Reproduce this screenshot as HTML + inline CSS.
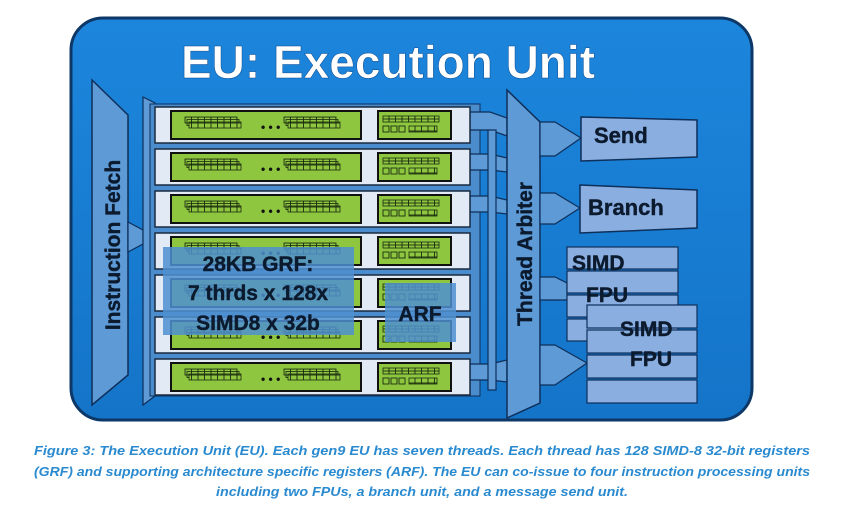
<!DOCTYPE html>
<html><head><meta charset="utf-8"><style>
html,body{margin:0;padding:0;background:#fff;width:842px;height:509px;overflow:hidden}
svg{display:block}
</style></head><body>
<svg width="842" height="509" viewBox="0 0 842 509" xmlns="http://www.w3.org/2000/svg" font-family="Liberation Sans, DejaVu Sans, sans-serif">
<defs>
<linearGradient id="bg" x1="0" y1="0" x2="0" y2="1"><stop offset="0" stop-color="#1c86dc"/><stop offset="1" stop-color="#1474c8"/></linearGradient>
<pattern id="sq" x="0" y="0" width="6.5" height="6" patternUnits="userSpaceOnUse">
  <rect x="0" y="0" width="6.5" height="6" fill="#8ec63f" stroke="#1a2a10" stroke-width="0.9"/>
</pattern>
<g id="cells">
  <rect x="0" y="0" width="52" height="6" fill="url(#sq)" stroke="#1a2a10" stroke-width="0.8"/>
  <rect x="2" y="2.5" width="52" height="6" fill="url(#sq)" stroke="#1a2a10" stroke-width="0.8"/>
  <rect x="4" y="5" width="52" height="6" fill="url(#sq)" stroke="#1a2a10" stroke-width="0.8"/>
</g>
<g id="row">
  <rect x="0" y="0" width="315" height="36" fill="#e2ebf5" stroke="#1a2a40" stroke-width="1.5"/>
  <rect x="16" y="4" width="190" height="28" fill="#8ec63f" stroke="#111" stroke-width="2"/>
  <use href="#cells" x="30" y="10"/>
  <text x="106" y="24" font-size="12" font-weight="bold" fill="#111">• • •</text>
  <use href="#cells" x="129" y="10"/>
  <rect x="223" y="4" width="73" height="28" fill="#8ec63f" stroke="#111" stroke-width="2"/>
  <rect x="228" y="9" width="56" height="6" fill="url(#sq)" stroke="#1a2a10" stroke-width="0.8"/>
  <g fill="none" stroke="#1a2a10" stroke-width="0.9">
    <rect x="228" y="19" width="6" height="6"/><rect x="236" y="19" width="6" height="6"/><rect x="244" y="19" width="6" height="6"/>
  </g>
  <rect x="254" y="19" width="28" height="6" fill="url(#sq)" stroke="#1a2a10" stroke-width="0.8"/>
</g>
</defs>
<rect x="71" y="18" width="681" height="402" rx="32" fill="url(#bg)" stroke="#0d3766" stroke-width="3"/>
<text x="388" y="78" font-size="46" font-weight="bold" fill="#fff" text-anchor="middle" stroke="#0a4a90" stroke-width="0.5">EU: Execution Unit</text>
<polygon points="92,80 128,115 128,375 92,405" fill="#5d9ad6" stroke="#0e2f5a" stroke-width="1.5"/>
<text transform="translate(120,245) rotate(-90)" font-size="21" font-weight="bold" fill="#0c1a2e" text-anchor="middle" stroke="#0c1a2e" stroke-width="0.4">Instruction Fetch</text>
<g fill="#5d9ad6" stroke="#0e2f5a" stroke-width="1.2">
<polygon points="128,222 143,230 143,244 128,252"/>
</g>
<polygon points="143,97 155,103 155,396 143,405" fill="#5d9ad6" stroke="#0e2f5a" stroke-width="1.2"/>
<rect x="150" y="104" width="330" height="292" fill="#4a8ccc" stroke="#0e2f5a" stroke-width="1"/>
<g fill="#5d9ad6" stroke="#0e2f5a" stroke-width="1.2">
<polygon points="470,112 490,112 507,118 507,136 490,130 470,130"/>
<polygon points="470,154 490,154 507,158 507,172 490,170 470,170"/>
<polygon points="470,196 490,196 507,200 507,214 490,212 470,212"/>
<polygon points="470,364 490,364 507,360 507,382 490,380 470,380"/>
<rect x="488" y="130" width="8" height="260"/>
</g>
<g>
<use href="#row" x="155" y="107"/>
<use href="#row" x="155" y="149"/>
<use href="#row" x="155" y="191"/>
<use href="#row" x="155" y="233"/>
<use href="#row" x="155" y="275"/>
<use href="#row" x="155" y="317"/>
<use href="#row" x="155" y="359"/>
</g>
<rect x="163" y="247" width="191" height="88" fill="#4f8fd0" fill-opacity="0.85"/>
<g font-size="21" font-weight="bold" fill="#0c1a2e" stroke="#0c1a2e" stroke-width="0.4" text-anchor="middle">
<text x="258" y="271">28KB GRF:</text>
<text x="258" y="300">7 thrds x 128x</text>
<text x="258" y="330">SIMD8 x 32b</text>
</g>
<rect x="385" y="283" width="71" height="59" fill="#4f8fd0" fill-opacity="0.85"/>
<text x="420" y="321" font-size="21" font-weight="bold" fill="#0c1a2e" stroke="#0c1a2e" stroke-width="0.4" text-anchor="middle">ARF</text>
<polygon points="507,90 540,122 540,403 507,418" fill="#5d9ad6" stroke="#0e2f5a" stroke-width="1.5"/>
<text transform="translate(532,254) rotate(-90)" font-size="21" font-weight="bold" fill="#0c1a2e" stroke="#0c1a2e" stroke-width="0.4" text-anchor="middle">Thread Arbiter</text>
<g fill="#5d9ad6" stroke="#0e2f5a" stroke-width="1.2">
<polygon points="540,122 555,122 581,138 555,156 540,156"/>
<polygon points="540,193 555,193 580,208 555,224 540,224"/>
<polygon points="540,277 555,277 567,283 567,300 555,300 540,300"/>
<polygon points="540,345 555,345 587,363 555,385 540,385"/>
</g>
<polygon points="581,117 697,120 697,157 581,161" fill="#8aaee0" stroke="#0e2f5a" stroke-width="1.5"/>
<text x="594" y="143" font-size="22" font-weight="bold" fill="#0c1a2e" stroke="#0c1a2e" stroke-width="0.4">Send</text>
<polygon points="580,185 697,190 697,228 580,233" fill="#8aaee0" stroke="#0e2f5a" stroke-width="1.5"/>
<text x="588" y="215" font-size="22" font-weight="bold" fill="#0c1a2e" stroke="#0c1a2e" stroke-width="0.4">Branch</text>
<g fill="#8aaee0" stroke="#0e2f5a" stroke-width="1.2">
<rect x="567" y="247" width="111" height="22"/>
<rect x="567" y="271" width="111" height="22"/>
<rect x="567" y="295" width="111" height="22"/>
<rect x="567" y="319" width="111" height="22"/>
</g>
<text x="572" y="270" font-size="21" font-weight="bold" fill="#0c1a2e" stroke="#0c1a2e" stroke-width="0.4">SIMD</text>
<text x="586" y="302" font-size="21" font-weight="bold" fill="#0c1a2e" stroke="#0c1a2e" stroke-width="0.4">FPU</text>
<g fill="#8aaee0" stroke="#0e2f5a" stroke-width="1.2">
<rect x="587" y="305" width="110" height="23"/>
<rect x="587" y="330" width="110" height="23"/>
<rect x="587" y="355" width="110" height="23"/>
<rect x="587" y="380" width="110" height="23"/>
</g>
<text x="620" y="336" font-size="21" font-weight="bold" fill="#0c1a2e" stroke="#0c1a2e" stroke-width="0.4">SIMD</text>
<text x="630" y="366" font-size="21" font-weight="bold" fill="#0c1a2e" stroke="#0c1a2e" stroke-width="0.4">FPU</text>
<g font-size="13" font-style="italic" font-weight="bold" fill="#2a8ad0" text-anchor="middle">
<text x="422" y="455" textLength="776" lengthAdjust="spacingAndGlyphs">Figure 3: The Execution Unit (EU). Each gen9 EU has seven threads. Each thread has 128 SIMD-8 32-bit registers</text>
<text x="422" y="476" textLength="776" lengthAdjust="spacingAndGlyphs">(GRF) and supporting architecture specific registers (ARF). The EU can co-issue to four instruction processing units</text>
<text x="422" y="496" textLength="412" lengthAdjust="spacingAndGlyphs">including two FPUs, a branch unit, and a message send unit.</text>
</g>
</svg>
</body></html>
